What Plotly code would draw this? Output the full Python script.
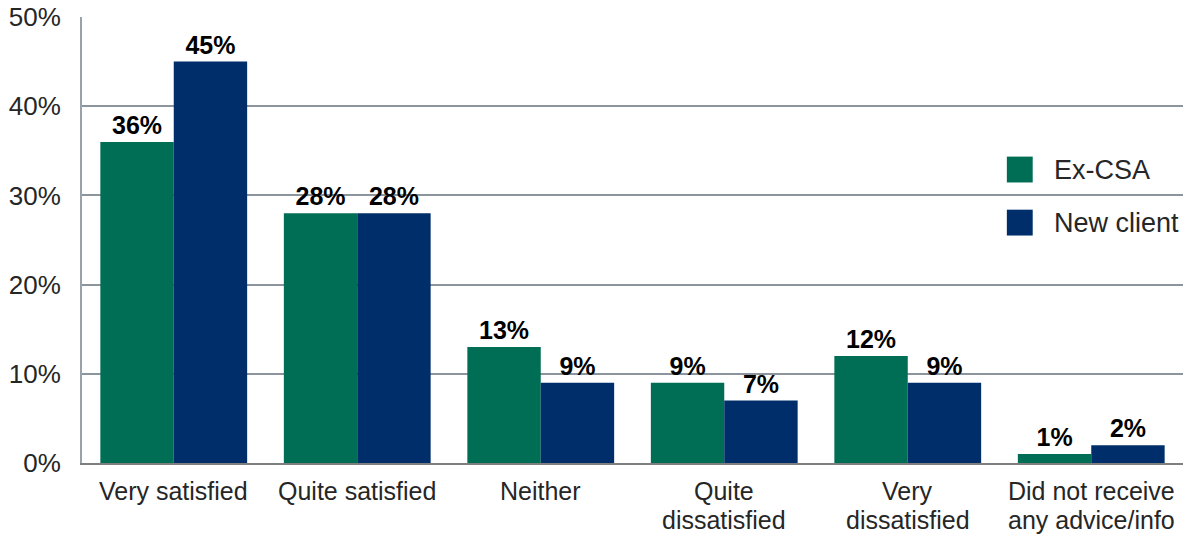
import plotly.graph_objects as go

# Satisfaction categories and survey results (percent)
categories = [
    "Very satisfied",
    "Quite satisfied",
    "Neither",
    "Quite<br>dissatisfied",
    "Very<br>dissatisfied",
    "Did not receive<br>any advice/info",
]
series_names = ["Ex-CSA", "New client"]
ex_csa = [36, 28, 13, 9, 12, 1]
new_client = [45, 28, 9, 7, 9, 2]
y_ticks = [0, 10, 20, 30, 40, 50]
y_tick_labels = [f"{v}%" for v in y_ticks]

colors = ["#006E55", "#002E6B"]
FONT = "Liberation Sans, Arial, sans-serif"
TEXT_COLOR = "#262626"

fig = go.Figure()
for name, vals, col in zip(series_names, [ex_csa, new_client], colors):
    fig.add_trace(go.Bar(
        x=categories, y=vals, name=name,
        marker=dict(color=col, line=dict(width=0)),
        texttemplate="%{y}%", textposition="outside",
        textfont=dict(family=FONT, size=25, color="#000000", weight="bold"),
        constraintext="none", cliponaxis=False, showlegend=False,
    ))

# Category labels, one annotation per text line for tight line spacing
for cat in categories:
    for i, line in enumerate(cat.split("<br>")):
        fig.add_annotation(
            x=cat, y=0, xref="x", yref="y", text=line, showarrow=False,
            xanchor="center", yanchor="middle", yshift=-28 - 29 * i,
            borderpad=0,
            font=dict(family=FONT, size=25, color=TEXT_COLOR),
        )

# Legend drawn as coloured squares with labels on the right side of the plot
for i, (name, col) in enumerate(zip(series_names, colors)):
    yc = 0.658 - i * 0.119
    fig.add_shape(type="rect", xref="paper", yref="paper",
                  x0=0.840, x1=0.8635, y0=yc - 0.029, y1=yc + 0.029,
                  fillcolor=col, line=dict(width=0))
    fig.add_annotation(xref="paper", yref="paper", x=0.881, y=yc,
                       text=name, showarrow=False, xanchor="left", yanchor="middle",
                       font=dict(family=FONT, size=27, color=TEXT_COLOR))

fig.update_layout(
    width=1188, height=534,
    margin=dict(l=82, r=5, t=17, b=71),
    paper_bgcolor="white", plot_bgcolor="white",
    barmode="group", bargap=0.2, bargroupgap=0,
    font=dict(family=FONT, size=26, color=TEXT_COLOR),
)
fig.update_xaxes(
    showline=True, linecolor="#7F7F7F", linewidth=2,
    ticks="", showticklabels=False, automargin=False,
    showgrid=False,
)
fig.update_yaxes(
    range=[0, 50], tickvals=y_ticks, ticktext=y_tick_labels,
    showgrid=True, gridcolor="#8C959E", gridwidth=1.5,
    showline=True, linecolor="#9AA1A8", linewidth=2,
    ticks="", ticklabelstandoff=14, automargin=False,
    tickfont=dict(size=26, color=TEXT_COLOR),
    zeroline=False,
)

fig.write_html("out.html")
